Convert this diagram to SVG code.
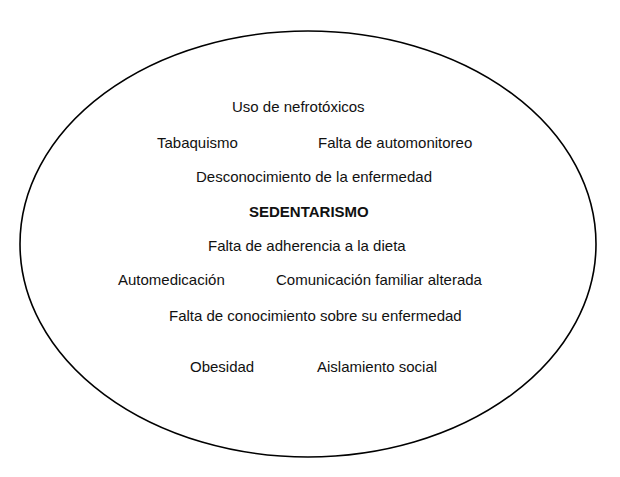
<svg xmlns="http://www.w3.org/2000/svg" width="620" height="477" viewBox="0 0 620 477">
<style>
text{font-family:"Liberation Sans",Arial,sans-serif;font-size:15px;fill:#111}
.b{font-weight:bold}
.e{fill:none;stroke:#000;stroke-width:1.6}
</style>
<rect width="620" height="477" fill="#fff"/>
<g id="boundary"><ellipse class="e" cx="308" cy="244" rx="288" ry="213"/></g>
<g id="connectors"></g>
<g id="n1"><text x="232" y="112">Uso de nefrotóxicos</text></g>
<g id="n2"><text x="157" y="148">Tabaquismo</text></g>
<g id="n3"><text x="318" y="148">Falta de automonitoreo</text></g>
<g id="n4"><text x="196" y="182">Desconocimiento de la enfermedad</text></g>
<g id="n5"><text class="b" x="249" y="217">SEDENTARISMO</text></g>
<g id="n6"><text x="208" y="251">Falta de adherencia a la dieta</text></g>
<g id="n7"><text x="118" y="285">Automedicación</text></g>
<g id="n8"><text x="276" y="285">Comunicación familiar alterada</text></g>
<g id="n9"><text x="169" y="321">Falta de conocimiento sobre su enfermedad</text></g>
<g id="n10"><text x="190" y="372">Obesidad</text></g>
<g id="n11"><text x="317" y="372">Aislamiento social</text></g>
</svg>
